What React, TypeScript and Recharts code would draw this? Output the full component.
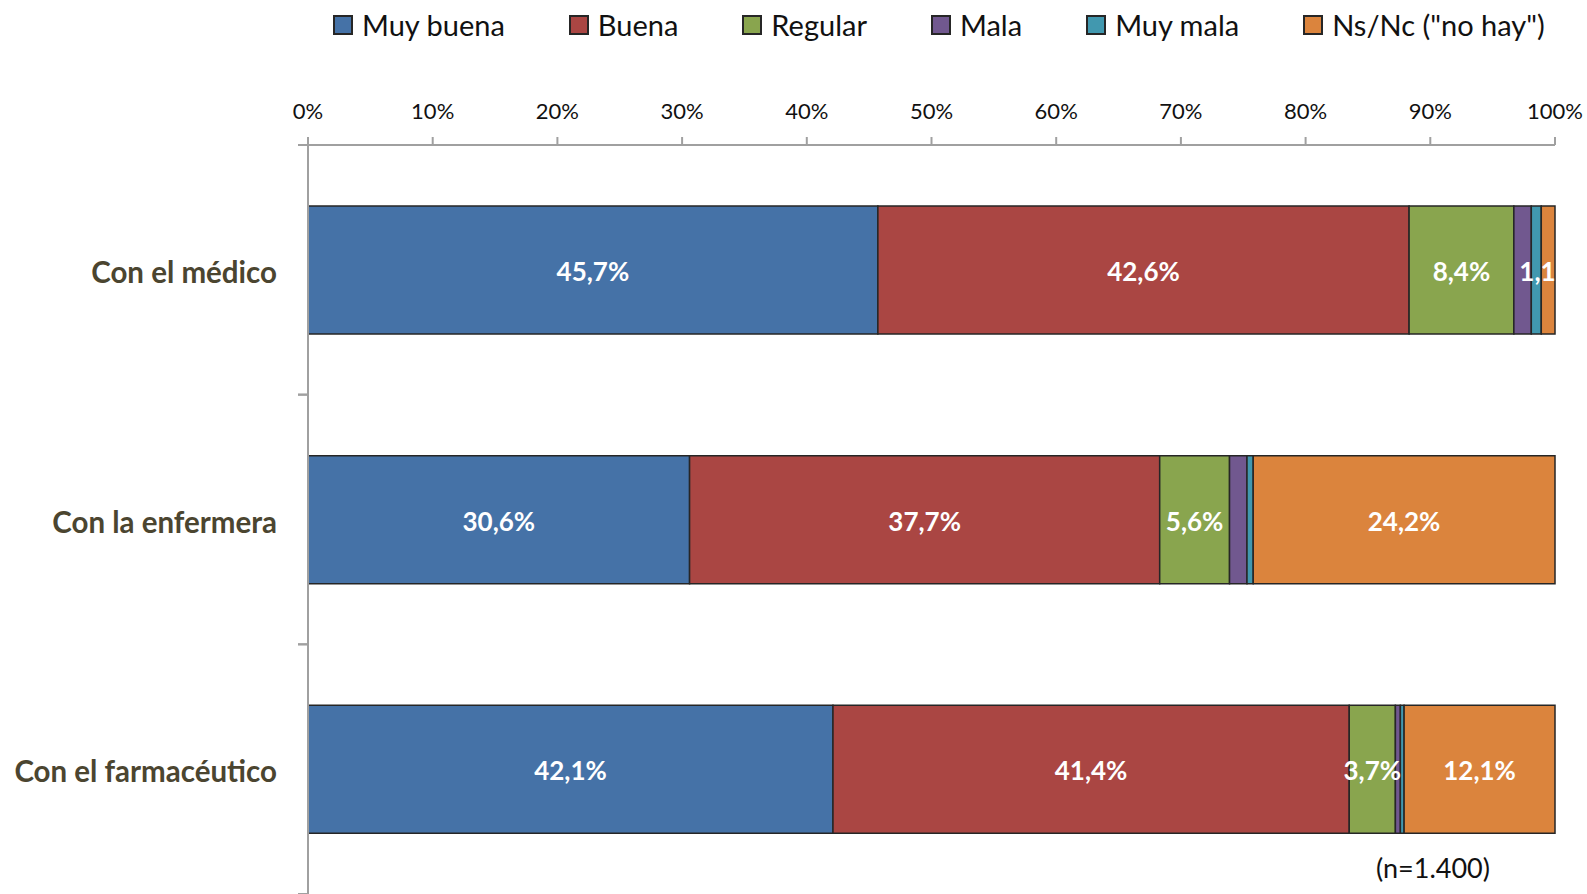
import React from 'react';
import { BarChart, Bar, XAxis, YAxis, Legend, LabelList } from 'recharts';

const categories = ['Con el médico', 'Con la enfermera', 'Con el farmacéutico'];
const muyBuena = [45.7, 30.6, 42.1];
const buena = [42.6, 37.7, 41.4];
const regular = [8.4, 5.6, 3.7];
const mala = [1.4, 1.4, 0.4];
const muyMala = [0.8, 0.5, 0.3];
const nsnc = [1.1, 24.2, 12.1];
const xTicks = [0, 10, 20, 30, 40, 50, 60, 70, 80, 90, 100];

const series = [
  { key: 'muyBuena', name: 'Muy buena', color: '#4572A7', values: muyBuena, label: true },
  { key: 'buena', name: 'Buena', color: '#AA4643', values: buena, label: true },
  { key: 'regular', name: 'Regular', color: '#89A54E', values: regular, label: true },
  { key: 'mala', name: 'Mala', color: '#71588F', values: mala, label: false },
  { key: 'muyMala', name: 'Muy mala', color: '#4198AF', values: muyMala, label: false },
  { key: 'nsnc', name: 'Ns/Nc ("no hay")', color: '#DB843D', values: nsnc, label: true },
];

const data = categories.map((name, i) => {
  const row: Record<string, string | number> = { name };
  series.forEach((s) => (row[s.key] = s.values[i]));
  return row;
});

const W = 1587;
const H = 894;
const PLOT_LEFT = 308;
const PLOT_RIGHT = 1555;
const PLOT_TOP = 145;
const LEGEND_H = 50;
const BAND = (H - PLOT_TOP) / categories.length;

const fmt = (v: number) => v.toFixed(1).replace('.', ',') + '%';

function CategoryTick(props: any) {
  const { y, payload } = props;
  return (
    <g>
      <text
        x={PLOT_LEFT - 31}
        y={y}
        dy={13}
        textAnchor="end"
        fontSize={29.5}
        fontWeight={700}
        fill="#4b4530"
      >
        {payload.value}
      </text>
      <line x1={PLOT_LEFT - 10} x2={PLOT_LEFT} y1={y - BAND / 2} y2={y - BAND / 2} stroke="#a0a0a0" strokeWidth={2} />
      <line x1={PLOT_LEFT - 10} x2={PLOT_LEFT} y1={y + BAND / 2} y2={y + BAND / 2} stroke="#a0a0a0" strokeWidth={2} />
    </g>
  );
}

let clipCount = 0;
function SegmentLabel(props: any) {
  const { x, y, width, height, value } = props;
  const id = `lblclip-${clipCount++}`;
  return (
    <g>
      <defs>
        <clipPath id={id}>
          <rect x={PLOT_LEFT} y={0} width={PLOT_RIGHT - PLOT_LEFT} height={H} />
        </clipPath>
      </defs>
      <text
        clipPath={`url(#${id})`}
        x={x + width / 2}
        y={y + height / 2}
        dy={11}
        textAnchor="middle"
        fontSize={26}
        fontWeight={700}
        fill="#ffffff"
      >
        {fmt(value)}
      </text>
    </g>
  );
}

function LegendContent() {
  return (
    <div
      style={{
        height: LEGEND_H,
        display: 'flex',
        alignItems: 'center',
        paddingLeft: 333,
        boxSizing: 'border-box',
      }}
    >
      {series.map((s) => (
        <div key={s.key} style={{ display: 'flex', alignItems: 'center', marginRight: 64 }}>
          <span
            style={{
              width: 16,
              height: 16,
              background: s.color,
              border: '2px solid #262626',
              marginRight: 9,
              display: 'inline-block',
            }}
          />
          <span style={{ fontSize: 29, color: '#111', lineHeight: '30px', whiteSpace: 'nowrap' }}>{s.name}</span>
        </div>
      ))}
    </div>
  );
}

export default function App() {
  return (
    <div style={{ position: 'relative', width: W, height: H, fontFamily: 'Lato, "Noto Sans", sans-serif', background: '#fff' }}>
      <style>{'body{margin:0}'}</style>
      <BarChart
        width={W}
        height={H}
        data={data}
        layout="vertical"
        margin={{ top: 0, right: W - PLOT_RIGHT, bottom: 0, left: 0 }}
        barCategoryGap={61}
      >
        <Legend verticalAlign="top" align="left" content={<LegendContent />} wrapperStyle={{ top: 0, left: 0 }} />
        <XAxis
          type="number"
          orientation="top"
          domain={[0, 100]}
          ticks={xTicks}
          tickFormatter={(v) => `${v}%`}
          height={PLOT_TOP - LEGEND_H}
          axisLine={{ stroke: '#a0a0a0', strokeWidth: 2 }}
          tickLine={{ stroke: '#a0a0a0', strokeWidth: 2 }}
          tickSize={8}
          tickMargin={18}
          tick={{ fill: '#111', fontSize: 22 }}
          interval={0}
        />
        <YAxis
          type="category"
          dataKey="name"
          width={PLOT_LEFT}
          axisLine={{ stroke: '#a0a0a0', strokeWidth: 2 }}
          tickLine={false}
          tick={<CategoryTick />}
          interval={0}
        />
        {series.map((s) => (
          <Bar
            key={s.key}
            dataKey={s.key}
            name={s.name}
            stackId="a"
            fill={s.color}
            stroke="#262626"
            strokeWidth={1.5}
            isAnimationActive={false}
          >
            {s.label && <LabelList dataKey={s.key} content={<SegmentLabel />} />}
          </Bar>
        ))}
      </BarChart>
      <div
        style={{
          position: 'absolute',
          left: 1376,
          top: 851,
          fontSize: 27,
          color: '#111',
          whiteSpace: 'nowrap',
        }}
      >
        (n=1.400)
      </div>
    </div>
  );
}
